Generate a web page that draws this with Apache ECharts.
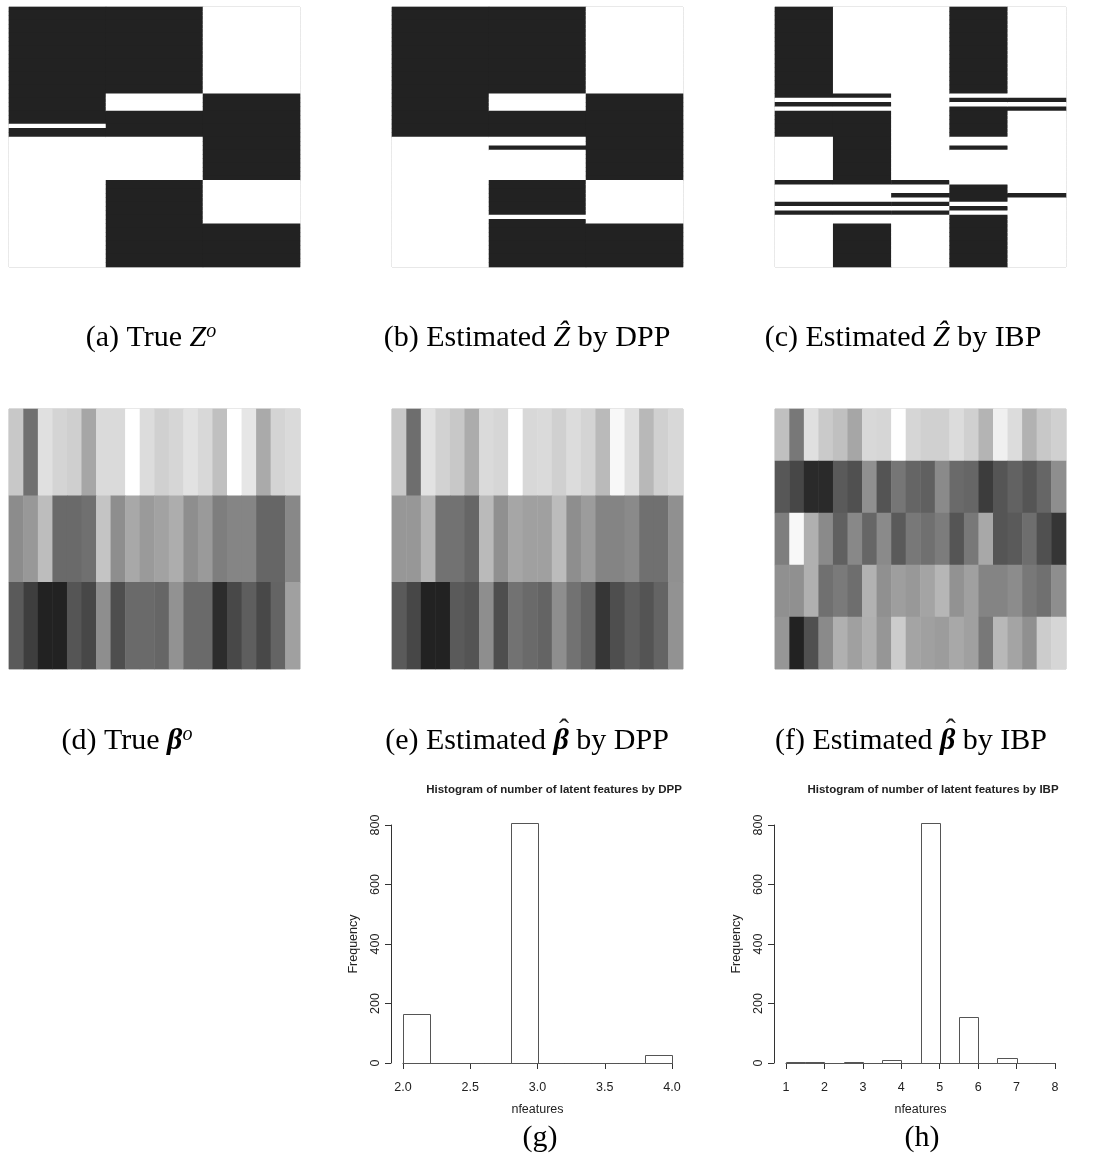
<!DOCTYPE html>
<html><head><meta charset="utf-8">
<script src="https://cdn.jsdelivr.net/npm/echarts@6/dist/echarts.min.js"></script>
<style>html,body{margin:0;padding:0;background:#fff}#c{width:1097px;height:1159px}</style>
</head><body><div id="c"></div>
<script>
// ---- Z matrices: each string is one feature column, 60 observations (rows top->bottom), 1 = black
const zTrue = [
  "1111111111 1111111111 1111111011 0000000000 0000000000 0000000000",
  "1111111111 1111111111 0000111111 0000000000 1111111111 1111111111",
  "0000000000 0000000000 1111111111 1111111111 0000000000 1111111111"
];
const zDPP = [
  "1111111111 1111111111 1111111111 0000000000 0000000000 0000000000",
  "1111111111 1111111111 0000111111 0010000000 1111111101 1111111111",
  "0000000000 0000000000 1111111111 1111111111 0000000000 1111111111"
];
const zIBP = [
  "1111111111 1111111111 1010111111 0000000000 1000010100 0000000000",
  "0000000000 0000000000 1010111111 1111111111 1000010100 1111111111",
  "0000000000 0000000000 0000000000 0000000000 1001010100 0000000000",
  "1111111111 1111111111 0101111111 0010000000 0111101011 1111111111",
  "0000000000 0000000000 0101000000 0000000000 0001000000 0000000000"
];
// ---- beta matrices (grey level of each cell, 0 = black, 255 = white), rows = features, 20 columns
const betaTrue = [
  [200,112,224,212,207,166,218,218,255,220,208,214,226,216,192,255,230,170,212,218],
  [140,152,189,106,106,112,196,142,168,154,162,173,142,154,126,133,133,102,102,136],
  [ 90, 62, 34, 34, 85, 71,142, 78,106,106,102,146,106,106, 44, 72, 94, 72,100,160]
];
const betaDPP = [
  [200,110,226,210,200,172,218,214,255,216,218,208,220,212,186,248,224,184,208,216],
  [151,151,180,114,114,102,186,144,166,160,160,188,142,156,132,132,138,112,112,144],
  [ 90, 71, 34, 34, 90, 84,142, 78,114,106,100,142,114,100, 54, 78, 94, 84,100,146]
];
const betaIBP = [
  [192,120,224,202,192,166,216,214,255,214,208,208,220,208,180,240,220,178,200,208],
  [ 87, 71, 42, 42, 90, 80,144, 84,118,101, 96,138,106,102, 60, 85, 98, 85,102,142],
  [126,248,176,138, 96,136,102,138, 90,120,112,124, 85,120,168, 85, 90,110, 80, 53],
  [144,144,176,112,122,110,178,144,158,152,164,182,146,160,132,132,140,120,112,142],
  [150, 34, 80,138,176,160,176,150,204,164,160,156,168,160,120,184,164,144,204,214]
];
// ---- histograms: bin edges and counts
const dppBreaks = [2.0,2.2,2.4,2.6,2.8,3.0,3.2,3.4,3.6,3.8,4.0];
const dppCounts = [166,0,0,0,808,0,0,0,0,26];
const ibpBreaks = [1,1.5,2,2.5,3,3.5,4,4.5,5,5.5,6,6.5,7,7.5,8];
const ibpCounts = [3,2,0,5,0,10,0,807,0,154,0,18,0,1];
const freqTicks = [0,200,400,600,800];

function zData(cols){const out=[];cols.forEach((s,c)=>{const b=s.replace(/ /g,'');for(let r=0;r<b.length;r++)out.push([c,r,+b[r]]);});return out;}
function bData(rows){const out=[];rows.forEach((row,r)=>row.forEach((v,c)=>out.push([c,r,v])));return out;}
function hData(br,ct){return ct.map((v,i)=>[br[i],br[i+1],v]);}
function idx(n){return Array.from({length:n},(_,i)=>String(i));}

const chart = echarts.init(document.getElementById('c'));
const panels = [
  {left:9,top:7,cols:3,rows:60},{left:392,top:7,cols:3,rows:60},{left:775,top:7,cols:5,rows:60},
  {left:9,top:409,cols:20,rows:3},{left:392,top:409,cols:20,rows:3},{left:775,top:409,cols:20,rows:5}
];
const grids=[],xAxes=[],yAxes=[],series=[];
panels.forEach((p,i)=>{
  grids.push({left:p.left,top:p.top,width:291,height:260,show:true,borderColor:'#c4c4c4',borderWidth:1,backgroundColor:'#fff'});
  xAxes.push({type:'category',gridIndex:i,data:idx(p.cols),show:false});
  yAxes.push({type:'category',gridIndex:i,data:idx(p.rows),inverse:true,show:false});
});
const zSets=[zTrue,zDPP,zIBP], bSets=[betaTrue,betaDPP,betaIBP];
zSets.forEach((m,i)=>series.push({type:'heatmap',xAxisIndex:i,yAxisIndex:i,data:zData(m),progressive:0,emphasis:{disabled:true}}));
bSets.forEach((m,i)=>series.push({type:'heatmap',xAxisIndex:3+i,yAxisIndex:3+i,data:bData(m),progressive:0,emphasis:{disabled:true}}));

const axisCol='#333';
const sans='Liberation Sans, Arial, Helvetica, sans-serif';
function histAxes(gi,min,max,interval,dec,yoff){
  xAxes.push({type:'value',gridIndex:gi,min:min,max:max,interval:interval,offset:10,
    axisLine:{show:true,lineStyle:{color:axisCol,width:1}},axisTick:{show:true,length:6,lineStyle:{color:axisCol}},
    axisLabel:{color:'#222',fontFamily:sans,fontSize:12.5,margin:8,formatter:v=>v.toFixed(dec)},
    splitLine:{show:false},name:'nfeatures',nameLocation:'middle',nameGap:30,
    nameTextStyle:{color:'#222',fontFamily:sans,fontSize:12.5}});
  yAxes.push({type:'value',gridIndex:gi,min:freqTicks[0],max:freqTicks[freqTicks.length-1],interval:freqTicks[1]-freqTicks[0],offset:yoff,
    axisLine:{show:true,lineStyle:{color:axisCol,width:1}},axisTick:{show:true,length:6,lineStyle:{color:axisCol}},
    axisLabel:{color:'#222',fontFamily:sans,fontSize:12.5,rotate:90,margin:9},
    splitLine:{show:false},name:'Frequency',nameLocation:'middle',nameGap:31,
    nameTextStyle:{color:'#222',fontFamily:sans,fontSize:12.5}});
}
grids.push({left:403,top:825,width:269,height:238,show:false});
grids.push({left:786,top:825,width:269,height:238,show:false});
histAxes(6,2,4,0.5,1,12);
histAxes(7,1,8,1,0,12);
function histItem(params,api){
  const p0=api.coord([api.value(0),api.value(2)]);
  const p1=api.coord([api.value(1),0]);
  const x0=Math.round(p0[0])+0.5, x1=Math.round(p1[0])+0.5, y0=Math.round(p0[1])+0.5, y1=Math.round(p1[1])+0.5;
  return {type:'rect',shape:{x:x0,y:y0,width:x1-x0,height:y1-y0},style:{fill:'#fff',stroke:'#555',lineWidth:1}};
}
series.push({type:'custom',xAxisIndex:6,yAxisIndex:6,renderItem:histItem,clip:false,encode:{x:[0,1],y:2},data:hData(dppBreaks,dppCounts)});
series.push({type:'custom',xAxisIndex:7,yAxisIndex:7,renderItem:histItem,clip:false,encode:{x:[0,1],y:2},data:hData(ibpBreaks,ibpCounts)});

// ---- captions
const serif='Liberation Serif, DejaVu Serif, serif';
const FS=30;
const rich={
  n:{fontFamily:serif,fontSize:FS,color:'#222',lineHeight:38},
  i:{fontFamily:serif,fontSize:FS,color:'#222',fontStyle:'italic',lineHeight:38},
  b:{fontFamily:serif,fontSize:FS,color:'#222',fontStyle:'italic',fontWeight:'bold',lineHeight:38},
  s:{fontFamily:serif,fontSize:20,color:'#222',fontStyle:'italic',lineHeight:38,padding:[0,0,13,0]}
};
const meas=document.createElement('canvas').getContext('2d');
function wid(key,t){const st=rich[key];meas.font=(st.fontStyle||'normal')+' '+(st.fontWeight||'normal')+' '+st.fontSize+'px '+st.fontFamily;return meas.measureText(t).width;}
function cap(cx,cy,parts){
  const els=[];
  const text=parts.map(p=>'{'+p[0]+'|'+p[1]+'}').join('');
  els.push({type:'text',x:cx,y:cy,style:{text:text,rich:rich,align:'center',verticalAlign:'middle'}});
  const W=parts.reduce((s,p)=>s+wid(p[0],p[1]),0);
  let x=cx-W/2;
  parts.forEach(p=>{const w=wid(p[0],p[1]);
    if(p[2]) els.push({type:'text',x:x+w/2+3,y:cy-10,style:{text:'ˆ',fontFamily:serif,fontSize:FS,fill:'#222',align:'center',verticalAlign:'middle'}});
    x+=w;});
  return els;
}
const graphics=[].concat(
  cap(151,338,[['n','(a) True '],['i','Z'],['s','o']]),
  cap(527,338,[['n','(b) Estimated '],['i','Ẑ'],['n',' by DPP']]),
  cap(903,338,[['n','(c) Estimated '],['i','Ẑ'],['n',' by IBP']]),
  cap(127,741,[['n','(d) True '],['b','β'],['s','o']]),
  cap(527,741,[['n','(e) Estimated '],['b','β',true],['n',' by DPP']]),
  cap(911,741,[['n','(f) Estimated '],['b','β',true],['n',' by IBP']]),
  cap(540,1138,[['n','(g)']]),
  cap(922,1138,[['n','(h)']]),
  [{type:'text',x:554,y:790,style:{text:'Histogram of number of latent features by DPP',fontFamily:sans,fontSize:11.5,fontWeight:'bold',fill:'#222',align:'center',verticalAlign:'middle'}},
   {type:'text',x:933,y:790,style:{text:'Histogram of number of latent features by IBP',fontFamily:sans,fontSize:11.5,fontWeight:'bold',fill:'#222',align:'center',verticalAlign:'middle'}}]
);

chart.setOption({
  backgroundColor:'#fff',animation:false,
  grid:grids,xAxis:xAxes,yAxis:yAxes,series:series,graphic:graphics,
  visualMap:[
    {type:'piecewise',show:false,seriesIndex:[0,1,2],dimension:2,pieces:[{value:0,color:'#ffffff'},{value:1,color:'#222222'}]},
    {type:'continuous',show:false,seriesIndex:[3,4,5],dimension:2,min:0,max:255,inRange:{color:['#000000','#ffffff']}}
  ]
});
</script></body></html>
